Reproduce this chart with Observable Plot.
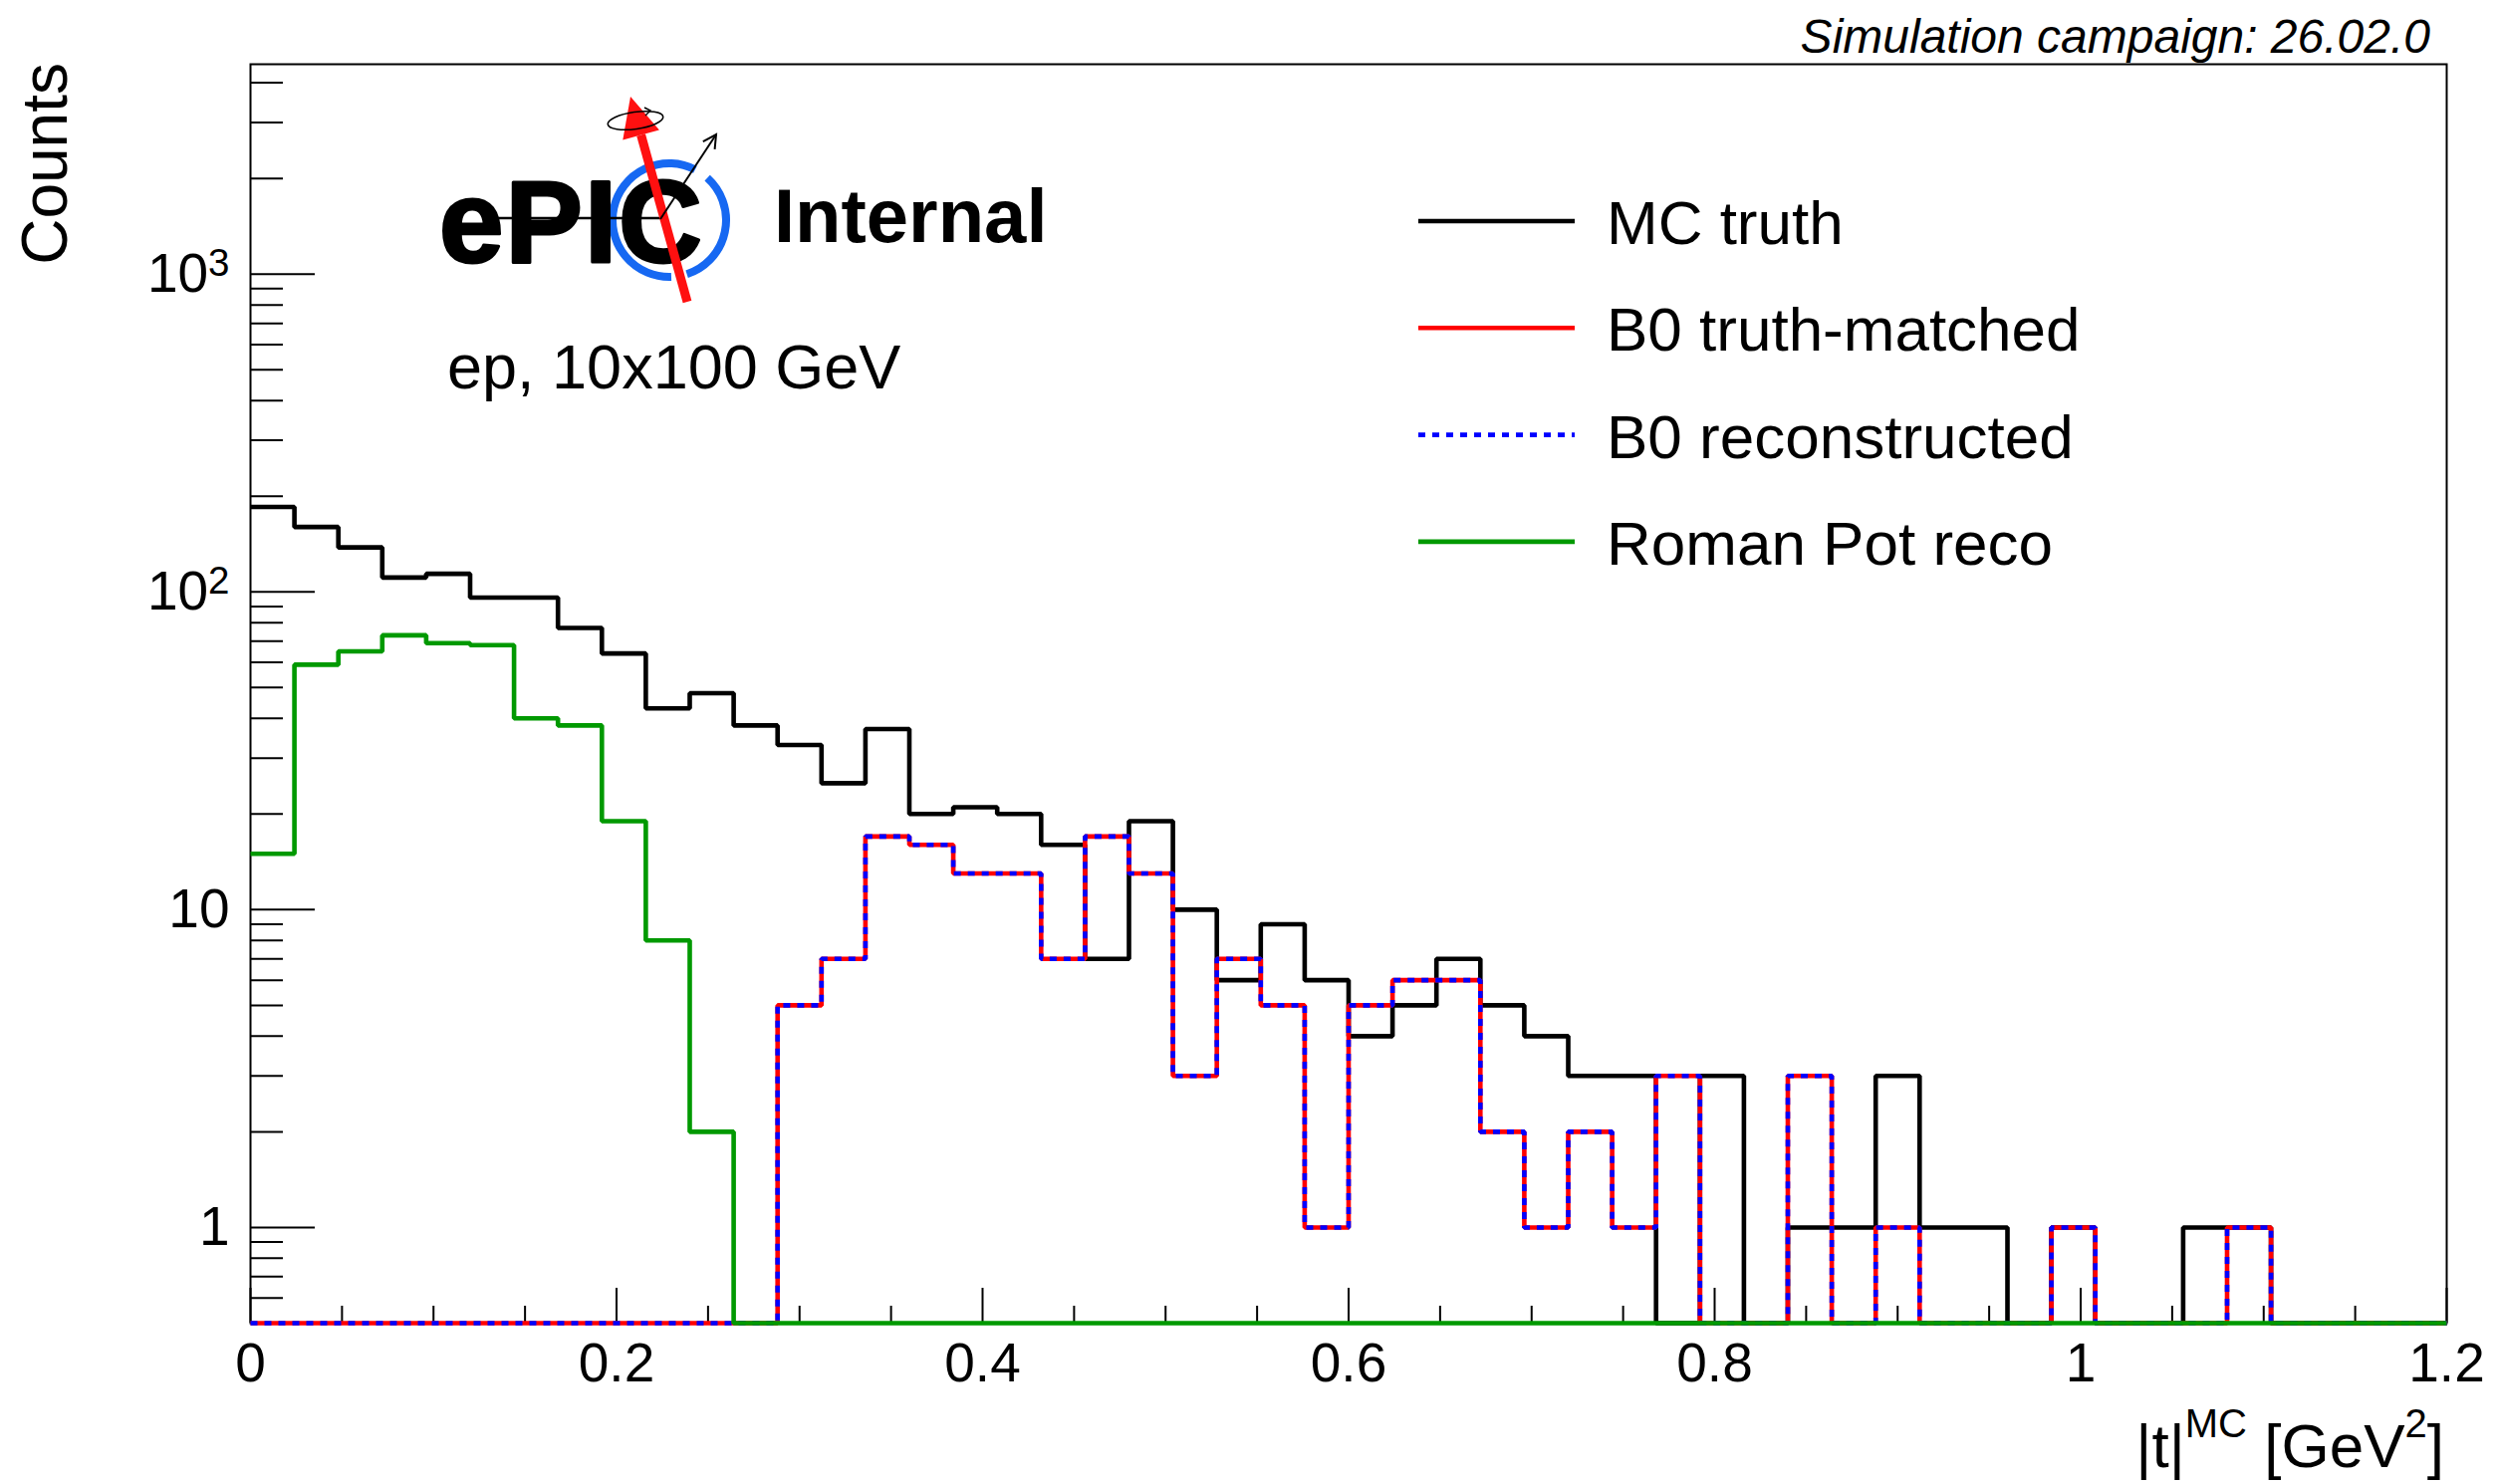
<!DOCTYPE html>
<html><head><meta charset="utf-8">
<script src="https://cdn.jsdelivr.net/npm/d3@7"></script>
<script src="https://cdn.jsdelivr.net/npm/@observablehq/plot@0.6"></script>
<style>html,body{margin:0;padding:0;background:#fff;overflow:hidden;}</style>
</head><body><div id="chart"></div>
<script>
// ---- binning (|t| histogram, 50 bins from 0 to 1.2 GeV^2)
const xMin = 0, xMax = 1.2, nBins = 50;

// ---- series (counts per bin)
const mcTruth = [185,160,138,111,114,96,96,77,64,43,
                 48,38,33,25,37,20,21,20,16,7,
                 19,10,6,9,6,4,5,7,5,4,
                 3,3,0,3,0,1,1,3,1,1,
                 0,1,0,0,1,1,0,0,0,0];
const b0TruthMatched = [0,0,0,0,0,0,0,0,0,0,
                        0,0,5,7,17,16,13,13,7,17,
                        13,3,7,5,1,5,6,6,2,1,
                        2,1,3,0,0,3,0,1,0,0,
                        0,1,0,0,0,1,0,0,0,0];
const b0Reconstructed = [0,0,0,0,0,0,0,0,0,0,
                         0,0,5,7,17,16,13,13,7,17,
                         13,3,7,5,1,5,6,6,2,1,
                         2,1,3,0,0,3,0,1,0,0,
                         0,1,0,0,0,1,0,0,0,0];
const romanPotReco = [15,59,65,73,69,68,40,38,19,8,
                      2,0,0,0,0,0,0,0,0,0,
                      0,0,0,0,0,0,0,0,0,0,
                      0,0,0,0,0,0,0,0,0,0,
                      0,0,0,0,0,0,0,0,0,0];

const seriesNames = ["MC truth", "B0 truth-matched", "B0 reconstructed", "Roman Pot reco"];
const seriesColors = ["#000000", "#ff0000", "#0000ff", "#009900"];

// ---- axes / ticks
const yMin = 0.5, yMax = 4575;
const xMajorTicks = [0, 0.2, 0.4, 0.6, 0.8, 1.0, 1.2];
const xMinorTicks = [0.05,0.1,0.15,0.25,0.3,0.35,0.45,0.5,0.55,0.65,0.7,0.75,0.85,0.9,0.95,1.05,1.1,1.15];
const yMajorTicks = [1, 10, 100, 1000];
const yMinorTicks = [0.6,0.7,0.8,0.9,2,3,4,5,6,7,8,9,20,30,40,50,60,70,80,90,200,300,400,500,600,700,800,900,2000,3000,4000];
const yTickText = {1: "1", 10: "10", 100: "10²", 1000: "10³"};

const FONT = "'Liberation Sans', Arial, Helvetica, sans-serif";
const W = 2508, H = 1490;
const mL = 251, mR = 52, mT = 64, mB = 162;
const fW = W - mL - mR, fH = H - mT - mB;
const LW = 4.6;

function steps(values) {
  const bw = (xMax - xMin) / nBins;
  const pts = values.map((v, i) => ({x: xMin + i * bw, v}));
  pts.push({x: xMax, v: values[values.length - 1]});
  return pts;
}
const yv = d => Math.max(d.v, yMin);
const lineOpts = {x: "x", y: yv, curve: "step-after", strokeWidth: LW, strokeLinejoin: "miter", strokeLinecap: "butt"};

const chart = Plot.plot({
  width: W, height: H,
  marginLeft: mL, marginRight: mR, marginTop: mT, marginBottom: mB,
  style: {fontFamily: FONT, background: "#fff", color: "#000"},
  x: {domain: [xMin, xMax]},
  y: {type: "log", domain: [yMin, yMax]},
  marks: [
    Plot.frame({stroke: "#000", strokeWidth: 2}),
    Plot.tickX(xMinorTicks, {x: d => d, insetTop: fH - 17, stroke: "#000", strokeWidth: 2}),
    Plot.tickX(xMajorTicks, {x: d => d, insetTop: fH - 35, stroke: "#000", strokeWidth: 2}),
    Plot.tickY(yMinorTicks, {y: d => d, insetRight: fW - 33, stroke: "#000", strokeWidth: 2}),
    Plot.tickY(yMajorTicks, {y: d => d, insetRight: fW - 65, stroke: "#000", strokeWidth: 2}),
    Plot.axisX({ticks: xMajorTicks, tickSize: 0, tickPadding: 19, fontSize: 55, label: null,
                tickFormat: d => d3.format("~g")(d)}),
    Plot.axisY({ticks: yMajorTicks, tickSize: 0, tickPadding: 21, fontSize: 55, label: null,
                tickFormat: d => yTickText[d]}),
    Plot.line(steps(mcTruth), {...lineOpts, stroke: seriesColors[0]}),
    Plot.line(steps(b0TruthMatched), {...lineOpts, stroke: seriesColors[1]}),
    Plot.line(steps(b0Reconstructed), {...lineOpts, stroke: seriesColors[2], strokeDasharray: "7,7"}),
    Plot.line(steps(romanPotReco), {...lineOpts, stroke: seriesColors[3]})
  ]
});
document.getElementById("chart").appendChild(chart);

const svg = d3.select(chart);

// superscripts on the y tick labels
svg.selectAll('g[aria-label="y-axis tick label"] text').each(function () {
  const t = this.textContent;
  const m = {"²": "2", "³": "3"}[t.slice(-1)];
  if (m) {
    this.textContent = "10";
    d3.select(this).append("tspan").attr("dy", "-0.42em").attr("font-size", "0.7em").text(m);
  }
});

const ann = svg.append("g").attr("text-anchor", "start").attr("font-family", FONT).attr("fill", "#000");

// axis titles
ann.append("text")
  .attr("transform", "translate(67,63) rotate(-90)")
  .attr("text-anchor", "end").attr("font-size", 64)
  .text("Counts");

const xt = ann.append("text").attr("x", 2454).attr("y", 1473)
  .attr("text-anchor", "end").attr("font-size", 62);
xt.append("tspan").text("|t|");
xt.append("tspan").attr("dy", -30).attr("font-size", 40).text("MC");
xt.append("tspan").attr("dy", 30).text(" [GeV");
xt.append("tspan").attr("dy", -30).attr("font-size", 40).text("2");
xt.append("tspan").attr("dy", 30).text("]");

// top-right campaign label
ann.append("text").attr("x", 2440).attr("y", 53).attr("text-anchor", "end")
  .attr("font-style", "italic").attr("font-size", 48)
  .text("Simulation campaign: 26.02.0");

// ePIC logo
const logo = ann.append("g");
const cx = 672, cy = 221, r = 57;
function arcPath(a0, a1) {
  const p = d3.path();
  p.arc(cx, cy, r, a0 * Math.PI / 180, a1 * Math.PI / 180);
  return p.toString();
}
[[-48, 72], [88, 297]].forEach(([a0, a1]) =>
  logo.append("path").attr("d", arcPath(a0, a1)).attr("fill", "none")
    .attr("stroke", "#1668f2").attr("stroke-width", 8));
logo.append("line").attr("x1", 493).attr("x2", 663).attr("y1", 219).attr("y2", 219)
  .attr("stroke", "#000").attr("stroke-width", 2.5);
logo.append("text").attr("x", 441).attr("y", 263).attr("text-anchor", "start")
  .attr("font-weight", "bold").attr("font-size", 116).attr("letter-spacing", 2)
  .attr("stroke", "#000").attr("stroke-width", 3).attr("stroke-linejoin", "round")
  .text("ePIC");
// red arrow
logo.append("line").attr("x1", 690).attr("y1", 303).attr("x2", 643.6).attr("y2", 135.5)
  .attr("stroke", "#ff1010").attr("stroke-width", 9);
logo.append("polygon").attr("points", "633,97 661.9,130.4 625.3,140.6").attr("fill", "#ff1010");
// spin ellipse
logo.append("ellipse").attr("cx", 638).attr("cy", 121).attr("rx", 28).attr("ry", 8.5)
  .attr("transform", "rotate(-8 638 121)").attr("fill", "none").attr("stroke", "#000").attr("stroke-width", 1.6);
logo.append("path").attr("d", "M647,108 L653,111 L648,116").attr("fill", "none")
  .attr("stroke", "#000").attr("stroke-width", 1.4);
// black scattered arrow
{
  const x0 = 663, y0 = 220, x1 = 719, y1 = 135;
  const ang = Math.atan2(y1 - y0, x1 - x0);
  logo.append("line").attr("x1", x0).attr("y1", y0).attr("x2", x1).attr("y2", y1)
    .attr("stroke", "#000").attr("stroke-width", 2);
  const hl = 15, ha = 28 * Math.PI / 180;
  const pA = [x1 - hl * Math.cos(ang - ha), y1 - hl * Math.sin(ang - ha)];
  const pB = [x1 - hl * Math.cos(ang + ha), y1 - hl * Math.sin(ang + ha)];
  logo.append("path").attr("d", `M${pA[0]},${pA[1]} L${x1},${y1} L${pB[0]},${pB[1]}`)
    .attr("fill", "none").attr("stroke", "#000").attr("stroke-width", 2);
}
ann.append("text").attr("x", 777).attr("y", 243).attr("text-anchor", "start")
  .attr("font-weight", "bold").attr("font-size", 76).text("Internal");

ann.append("text").attr("x", 449).attr("y", 390).attr("text-anchor", "start")
  .attr("font-size", 63).text("ep, 10x100 GeV");

// legend
const legY0 = 222, legDy = 107.3;
const leg = ann.append("g").attr("font-size", 62);
seriesNames.forEach((name, i) => {
  const y = legY0 + i * legDy;
  leg.append("line").attr("x1", 1424).attr("x2", 1581).attr("y1", y).attr("y2", y)
    .attr("stroke", seriesColors[i]).attr("stroke-width", LW)
    .attr("stroke-dasharray", i === 2 ? "7,7" : null);
  leg.append("text").attr("x", 1613).attr("y", y + 23).attr("text-anchor", "start").text(name);
});
</script>
</body></html>
